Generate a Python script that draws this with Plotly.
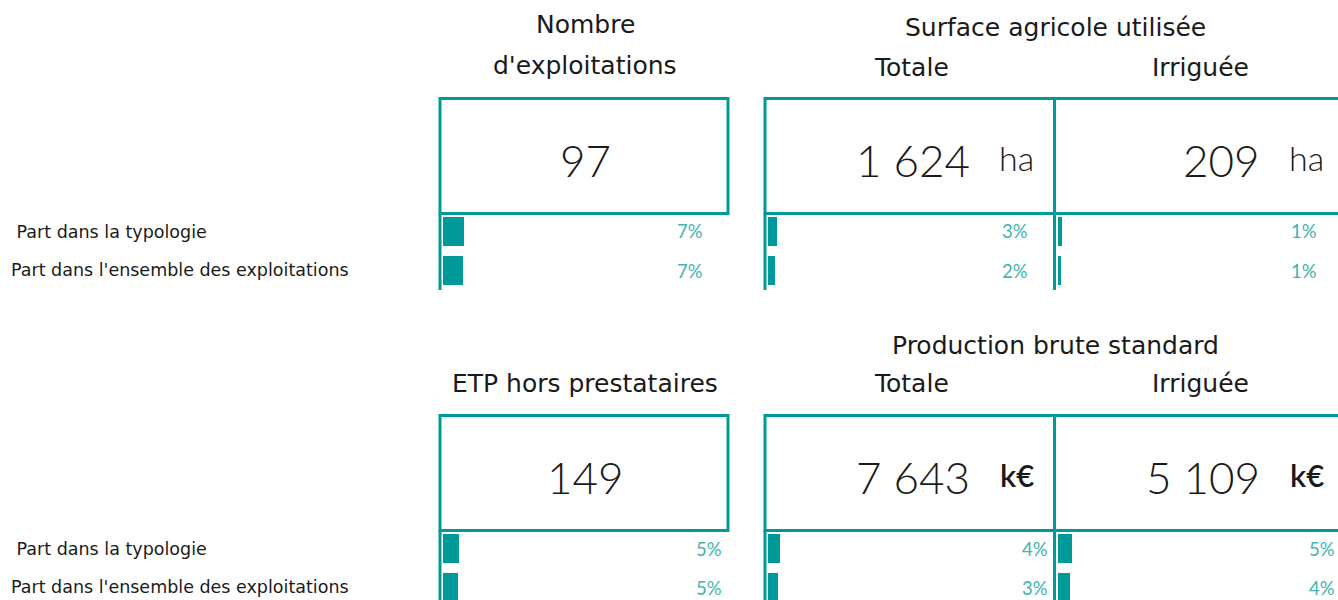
import plotly.graph_objects as go

# ---------------- data ----------------
indicators = ["Nombre d'exploitations", "SAU totale", "SAU irriguée",
              "ETP hors prestataires", "PBS totale", "PBS irriguée"]
main_values = [97, 1624, 209, 149, 7643, 5109]
units = ["", "ha", "ha", "", "k€", "k€"]
part_typologie = [0.072, 0.031, 0.013, 0.054, 0.041, 0.047]
part_ensemble = [0.066, 0.024, 0.010, 0.051, 0.034, 0.041]
row_labels = [" Part dans la typologie", "Part dans l'ensemble des exploitations"]
col_titles_top = ["Nombre", "d'exploitations"]
col_titles_bottom = ["ETP hors prestataires"]
section_titles = ["Surface agricole utilisée", "Production brute standard"]
sub_titles = ["Totale", "Irriguée"]

# ---------------- style / geometry ----------------
W, H = 1338, 600
TEAL = "#009999"
TEAL_TXT = "#42B4AF"
INK = "#1a1a1a"
FONT = "DejaVu Sans"
NUM_FONT = "Lato"


def X(px):
    return px / W


def Y(py):
    return 1 - py / H


bar_x0 = [443, 768, 1058]
BAR_SPAN = 296
pct_right = [[705, 1030, 1319], [724, 1050, 1337]]
sections = [0, 317]
STEP = 39  # px per bar row

fig = go.Figure()
layout_axes = {}
annotations = []
shapes = []

for i in range(6):
    sec, col = divmod(i, 3)
    off = sections[sec]
    n = i + 1
    xa = "x" if n == 1 else f"x{n}"
    ya = "y" if n == 1 else f"y{n}"
    xl = "xaxis" if n == 1 else f"xaxis{n}"
    yl = "yaxis" if n == 1 else f"yaxis{n}"
    fig.add_trace(go.Bar(
        x=[part_typologie[i], part_ensemble[i]],
        y=row_labels,
        orientation="h",
        marker=dict(color=TEAL, line_width=0),
        width=29 / STEP,
        xaxis=xa, yaxis=ya,
        hoverinfo="skip", showlegend=False,
    ))
    x0 = bar_x0[col]
    x1 = min(x0 + BAR_SPAN, W)
    top = 212 + off
    bottom = min(290 + off, H)
    v_bottom = -0.5 + (bottom - top) / STEP
    layout_axes[xl] = dict(domain=[X(x0), X(x1)], range=[0, (x1 - x0) / BAR_SPAN],
                           visible=False, showgrid=False, zeroline=False,
                           anchor=ya, fixedrange=True)
    layout_axes[yl] = dict(domain=[Y(bottom), Y(top)], range=[v_bottom, -0.5],
                           type="category", categoryarray=row_labels,
                           visible=False, showgrid=False, zeroline=False,
                           anchor=xa, fixedrange=True)
    # percentage labels
    for j, v in enumerate([part_typologie[i], part_ensemble[i]]):
        annotations.append(dict(
            x=X(pct_right[sec][col]), y=Y(top + STEP * (j + 0.5)),
            xref="paper", yref="paper", xanchor="right", yanchor="middle",
            text=f"{round(v * 100)}%", showarrow=False,
            font=dict(family=NUM_FONT, size=18.5, color=TEAL_TXT)))
    # main value
    val_txt = f"{main_values[i]:,}".replace(",", " ")
    ny = 160 + off
    if units[i] == "":
        annotations.append(dict(
            x=X(585), y=Y(ny), xref="paper", yref="paper",
            xanchor="center", yanchor="middle", text=val_txt, showarrow=False,
            font=dict(family=NUM_FONT, size=44, color=INK, weight=300)))
    else:
        rx = [None, 972, 1262][col]
        ux = [None, 1036, 1326][col]
        annotations.append(dict(
            x=X(rx), y=Y(ny), xref="paper", yref="paper",
            xanchor="right", yanchor="middle", text=val_txt, showarrow=False,
            font=dict(family=NUM_FONT, size=44, color=INK, weight=300)))
        bold = units[i] == "k€"
        annotations.append(dict(
            x=X(ux), y=Y(ny - 2), xref="paper", yref="paper",
            xanchor="right", yanchor="middle", text=units[i], showarrow=False,
            font=dict(family=NUM_FONT, size=31 if bold else 34, color=INK,
                      weight=600 if bold else 300)))

# row labels (left)
for off in sections:
    annotations.append(dict(x=X(9), y=Y(232 + off), xref="paper", yref="paper",
                            xanchor="left", yanchor="middle", text=row_labels[0],
                            showarrow=False, font=dict(family=FONT, size=17.5, color=INK)))
    annotations.append(dict(x=X(9), y=Y(270 + off), xref="paper", yref="paper",
                            xanchor="left", yanchor="middle", text=row_labels[1],
                            showarrow=False, font=dict(family=FONT, size=17.5, color=INK)))


def title(txt, cx, cy, size=25):
    annotations.append(dict(x=X(cx), y=Y(cy), xref="paper", yref="paper",
                            xanchor="center", yanchor="middle", text=txt,
                            showarrow=False, font=dict(family=FONT, size=size, color=INK)))


title(col_titles_top[0], 585, 24)
title(col_titles_top[1], 585, 66)
title(section_titles[0], 1055, 28)
title(sub_titles[0], 911, 67)
title(sub_titles[1], 1200, 67)
title(section_titles[1], 1055, 345)
title(col_titles_bottom[0], 585, 383)
title(sub_titles[0], 911, 383)
title(sub_titles[1], 1200, 383)

# boxes & rules
LW = 3
for off in sections:
    yt, yb = 98.5 + off, 213.5 + off
    ybot = min(290 + off, H + 5)
    shapes.append(dict(type="rect", xref="paper", yref="paper",
                       x0=X(440), x1=X(728), y0=Y(yb), y1=Y(yt),
                       line=dict(color=TEAL, width=LW), fillcolor="rgba(0,0,0,0)"))
    shapes.append(dict(type="rect", xref="paper", yref="paper",
                       x0=X(765), x1=X(1360), y0=Y(yb), y1=Y(yt),
                       line=dict(color=TEAL, width=LW), fillcolor="rgba(0,0,0,0)"))
    shapes.append(dict(type="line", xref="paper", yref="paper",
                       x0=X(1054.5), x1=X(1054.5), y0=Y(yb), y1=Y(yt),
                       line=dict(color=TEAL, width=LW)))
    for lx in (440, 765, 1054.5):
        shapes.append(dict(type="line", xref="paper", yref="paper",
                           x0=X(lx), x1=X(lx), y0=Y(ybot), y1=Y(yb),
                           line=dict(color=TEAL, width=LW)))

fig.update_layout(
    width=W, height=H,
    margin=dict(l=0, r=0, t=0, b=0),
    paper_bgcolor="white", plot_bgcolor="rgba(0,0,0,0)",
    bargap=0, showlegend=False,
    annotations=annotations, shapes=shapes,
    font=dict(family=FONT),
    **layout_axes,
)

fig.write_html("out.html", config={"displayModeBar": False},
               post_script="document.body.style.margin='0';document.body.style.overflow='hidden';")
